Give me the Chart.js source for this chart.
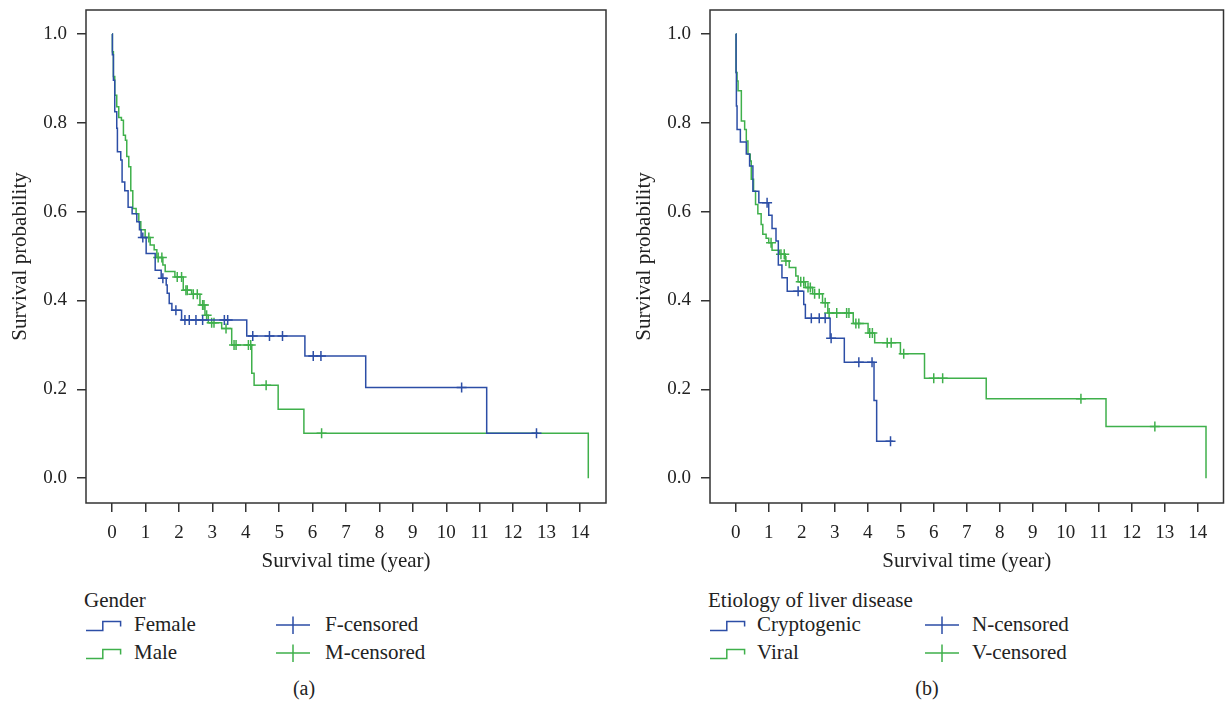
<!DOCTYPE html>
<html>
<head>
<meta charset="utf-8">
<script src="https://cdn.jsdelivr.net/npm/chart.js@4.4.1/dist/chart.umd.min.js"></script>
<style>
  html, body { margin: 0; padding: 0; background: #fff; }
  body { width: 1230px; height: 703px; position: relative; overflow: hidden;
         font-family: "Liberation Serif", serif; color: #222; }
  .panel { position: absolute; top: 0; height: 580px; }
  .txt { position: absolute; font-size: 21px; line-height: 24px; white-space: nowrap; }
  .icon { position: absolute; width: 36px; height: 22px; }
  .cap { position: absolute; font-size: 20px; line-height: 24px; width: 60px; text-align: center; }
</style>
</head>
<body>
<div class="panel" style="left:0;width:615px"><canvas id="chartA" width="615" height="580"></canvas></div>
<div class="panel" style="left:624px;width:606px"><canvas id="chartB" width="606" height="580"></canvas></div>

<!-- legend (a) -->
<div class="txt" style="left:84px;top:588px">Gender</div>
<svg class="icon" style="left:86px;top:614px"><path d="M0 16.5H16.8V7.5H34.6V12.5" fill="none" stroke="#2c4ea6" stroke-width="1.5"/></svg>
<div class="txt" style="left:134px;top:612px">Female</div>
<svg class="icon" style="left:86px;top:642px"><path d="M0 16.5H16.8V7.5H34.6V12.5" fill="none" stroke="#3fb04b" stroke-width="1.5"/></svg>
<div class="txt" style="left:134px;top:640px">Male</div>
<svg class="icon" style="left:276px;top:614px"><path d="M0 11H34M17 2.5V20" fill="none" stroke="#2c4ea6" stroke-width="1.5"/></svg>
<div class="txt" style="left:325px;top:612px">F-censored</div>
<svg class="icon" style="left:276px;top:642px"><path d="M0 11H34M17 2.5V20" fill="none" stroke="#3fb04b" stroke-width="1.5"/></svg>
<div class="txt" style="left:325px;top:640px">M-censored</div>
<div class="cap" style="left:274px;top:676px">(a)</div>

<!-- legend (b) -->
<div class="txt" style="left:708px;top:588px">Etiology of liver disease</div>
<svg class="icon" style="left:710px;top:614px"><path d="M0 16.5H16.8V7.5H34.6V12.5" fill="none" stroke="#2c4ea6" stroke-width="1.5"/></svg>
<div class="txt" style="left:757px;top:612px">Cryptogenic</div>
<svg class="icon" style="left:710px;top:642px"><path d="M0 16.5H16.8V7.5H34.6V12.5" fill="none" stroke="#3fb04b" stroke-width="1.5"/></svg>
<div class="txt" style="left:757px;top:640px">Viral</div>
<svg class="icon" style="left:925px;top:614px"><path d="M0 11H34M17 2.5V20" fill="none" stroke="#2c4ea6" stroke-width="1.5"/></svg>
<div class="txt" style="left:972px;top:612px">N-censored</div>
<svg class="icon" style="left:925px;top:642px"><path d="M0 11H34M17 2.5V20" fill="none" stroke="#3fb04b" stroke-width="1.5"/></svg>
<div class="txt" style="left:972px;top:640px">V-censored</div>
<div class="cap" style="left:897px;top:676px">(b)</div>

<script>
// axis ticks
const xTicks = [0, 1, 2, 3, 4, 5, 6, 7, 8, 9, 10, 11, 12, 13, 14];
const yTicks = [0, 0.2, 0.4, 0.6, 0.8, 1.0];

// (a) gender - Kaplan-Meier step values
const femaleTime = [0, 0.01, 0.04, 0.08, 0.14, 0.16, 0.26, 0.30, 0.38, 0.48, 0.60, 0.74, 0.82, 0.87, 1.02, 1.29, 1.47, 1.62, 1.65, 1.71, 1.79, 2.08, 4.03, 5.77, 7.59, 11.21, 12.75];
const femaleSurv = [1, 0.953, 0.896, 0.825, 0.788, 0.735, 0.716, 0.667, 0.647, 0.61, 0.595, 0.577, 0.559, 0.542, 0.506, 0.468, 0.45, 0.435, 0.416, 0.393, 0.378, 0.356, 0.32, 0.275, 0.204, 0.101, 0.101];
const femaleCensor = [0.92, 1.52, 1.91, 2.18, 2.31, 2.51, 2.71, 3.36, 3.46, 4.21, 4.71, 5.10, 6.02, 6.25, 10.46, 12.7];

const maleTime = [0, 0.01, 0.04, 0.08, 0.14, 0.20, 0.28, 0.34, 0.40, 0.44, 0.50, 0.56, 0.62, 0.72, 0.80, 0.86, 0.99, 1.14, 1.26, 1.34, 1.52, 1.59, 1.88, 2.13, 2.38, 2.63, 2.78, 2.88, 3.28, 3.58, 4.18, 4.25, 4.97, 5.74, 14.25];
const maleSurv = [1, 0.96, 0.904, 0.862, 0.836, 0.812, 0.806, 0.772, 0.761, 0.724, 0.701, 0.647, 0.607, 0.595, 0.577, 0.559, 0.542, 0.525, 0.514, 0.497, 0.48, 0.465, 0.453, 0.423, 0.414, 0.39, 0.367, 0.35, 0.337, 0.30, 0.236, 0.209, 0.155, 0.101, 0];
const maleCensor = [1.10, 1.38, 1.49, 1.95, 2.08, 2.21, 2.25, 2.43, 2.55, 2.71, 2.75, 2.83, 2.98, 3.05, 3.41, 3.65, 3.71, 4.08, 4.15, 4.61, 6.27];

// (b) etiology of liver disease
const cryptoTime = [0, 0.01, 0.02, 0.04, 0.14, 0.32, 0.42, 0.52, 0.70, 1.00, 1.10, 1.22, 1.29, 1.40, 1.56, 2.06, 2.11, 2.86, 3.29, 4.19, 4.27, 4.76];
const cryptoSurv = [1, 0.913, 0.838, 0.785, 0.757, 0.73, 0.703, 0.646, 0.62, 0.592, 0.562, 0.534, 0.48, 0.451, 0.421, 0.391, 0.36, 0.315, 0.261, 0.175, 0.083, 0.083];
const cryptoCensor = [0.95, 1.89, 2.29, 2.53, 2.71, 2.89, 3.73, 4.13, 4.69];

const viralTime = [0, 0.01, 0.04, 0.07, 0.17, 0.27, 0.32, 0.37, 0.44, 0.47, 0.54, 0.60, 0.67, 0.77, 0.82, 0.92, 1.00, 1.10, 1.32, 1.50, 1.62, 1.82, 1.89, 2.11, 2.33, 2.63, 2.79, 3.56, 4.01, 4.21, 4.99, 5.72, 7.59, 11.22, 14.25];
const viralSurv = [1, 0.913, 0.894, 0.872, 0.804, 0.785, 0.759, 0.729, 0.714, 0.673, 0.646, 0.616, 0.595, 0.571, 0.549, 0.54, 0.53, 0.513, 0.504, 0.489, 0.474, 0.455, 0.442, 0.429, 0.415, 0.395, 0.372, 0.348, 0.327, 0.305, 0.28, 0.225, 0.179, 0.116, 0];
const viralCensor = [1.07, 1.37, 1.47, 1.52, 1.97, 2.06, 2.19, 2.26, 2.39, 2.53, 2.71, 2.83, 3.06, 3.36, 3.43, 3.64, 3.73, 4.06, 4.14, 4.59, 4.71, 5.09, 6.00, 6.27, 10.46, 12.7];

const BLUE = '#2c4ea6';
const GREEN = '#3fb04b';
const INK = '#222';
const FONT = 'Liberation Serif';

// step curve points
function kmPoints(times, surv) {
  return times.map((t, i) => ({ x: t, y: surv[i] }));
}
// value of the step curve at time t (censor marks sit on the curve)
function survAt(times, surv, t) {
  let s = surv[0];
  for (let i = 0; i < times.length; i++) {
    if (times[i] <= t) s = surv[i];
  }
  return s;
}
function censorPoints(times, surv, cens) {
  return cens.map(t => ({ x: t, y: survAt(times, surv, t) }));
}

const framePlugin = {
  id: 'frame',
  beforeDatasetsDraw(chart) {
    const { ctx, chartArea: a } = chart;
    ctx.save();
    ctx.strokeStyle = '#333';
    ctx.lineWidth = 1.5;
    ctx.strokeRect(a.left, a.top, a.right - a.left, a.bottom - a.top);
    ctx.restore();
  }
};

function stepSet(times, surv, color) {
  return {
    data: kmPoints(times, surv), stepped: 'before', borderColor: color,
    borderWidth: 1.5, pointRadius: 0, fill: false
  };
}
function censorSet(times, surv, cens, color) {
  return {
    data: censorPoints(times, surv, cens), showLine: false, pointStyle: 'cross',
    pointRadius: 5, borderColor: color, borderWidth: 1.5
  };
}

function makeChart(id, datasets, padRight) {
  const tickGrid = { display: true, drawOnChartArea: false, drawTicks: true, tickLength: 9, color: '#333', lineWidth: 1.5 };
  new Chart(document.getElementById(id), {
    type: 'line',
    data: { datasets },
    options: {
      responsive: false,
      animation: false,
      devicePixelRatio: 1,
      layout: { padding: { top: 10, right: padRight, left: 0, bottom: 0 } },
      plugins: { legend: { display: false }, tooltip: { enabled: false } },
      scales: {
        x: {
          type: 'linear', min: -0.78, max: 14.78,
          afterBuildTicks: s => { s.ticks = xTicks.map(v => ({ value: v })); },
          afterFit: s => { s.height = 77; s.paddingLeft = 0; s.paddingRight = 0; },
          grid: tickGrid,
          border: { display: false },
          ticks: { font: { family: FONT, size: 19 }, color: INK, padding: 10, maxRotation: 0, autoSkip: false },
          title: { display: true, text: 'Survival time (year)', font: { family: FONT, size: 21 }, color: INK, padding: { top: 0, bottom: 6 } }
        },
        y: {
          type: 'linear', min: -0.056, max: 1.054,
          afterBuildTicks: s => { s.ticks = yTicks.map(v => ({ value: v })); },
          afterFit: s => { s.width = 86; s.paddingTop = 0; s.paddingBottom = 0; },
          grid: tickGrid,
          border: { display: false },
          ticks: { font: { family: FONT, size: 19 }, color: INK, padding: 10, callback: v => v.toFixed(1) },
          title: { display: true, text: 'Survival probability', font: { family: FONT, size: 21 }, color: INK, padding: { top: 8, bottom: 0 } }
        }
      }
    },
    plugins: [framePlugin]
  });
}

makeChart('chartA', [
  stepSet(femaleTime, femaleSurv, BLUE),
  censorSet(femaleTime, femaleSurv, femaleCensor, BLUE),
  stepSet(maleTime, maleSurv, GREEN),
  censorSet(maleTime, maleSurv, maleCensor, GREEN)
], 9);

makeChart('chartB', [
  stepSet(cryptoTime, cryptoSurv, BLUE),
  censorSet(cryptoTime, cryptoSurv, cryptoCensor, BLUE),
  stepSet(viralTime, viralSurv, GREEN),
  censorSet(viralTime, viralSurv, viralCensor, GREEN)
], 1);
</script>
</body>
</html>
